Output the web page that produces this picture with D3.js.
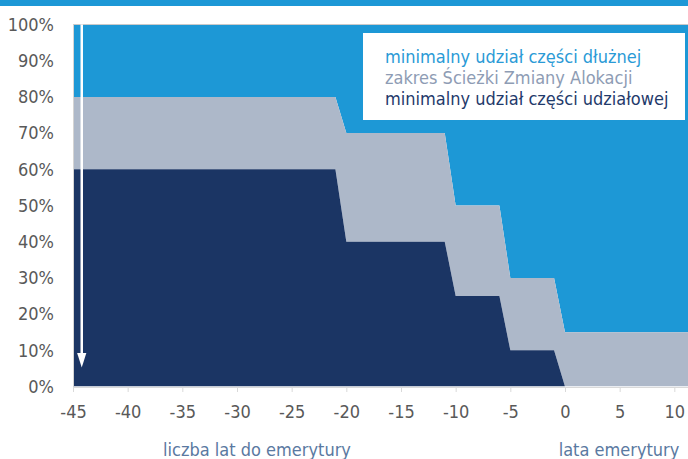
<!DOCTYPE html>
<html>
<head>
<meta charset="utf-8">
<script src="https://cdn.jsdelivr.net/npm/d3@7"></script>
<style>
    body { margin: 0; background: #fff; }
    svg text { font-family: "DejaVu Sans Condensed", "DejaVu Sans", sans-serif; font-stretch: condensed; }
</style>
</head>
<body>
<div id="chart"></div>
<script>
// years relative to retirement (0 = retirement age)
const years = [-45, -21, -20, -11, -10, -6, -5, -1, 0, 12];
// minimum debt share (%), measured from the top
const minDebtShare = [20, 20, 30, 30, 50, 50, 70, 70, 85, 85];
// minimum equity share (%), measured from the bottom
const minEquityShare = [60, 60, 40, 40, 25, 25, 10, 10, 0, 0];

const xTicks = [-45, -40, -35, -30, -25, -20, -15, -10, -5, 0, 5, 10];
const yTicks = [0, 10, 20, 30, 40, 50, 60, 70, 80, 90, 100];

const legendLabels = [
    'minimalny udział części dłużnej',
    'zakres Ścieżki Zmiany Alokacji',
    'minimalny udział części udziałowej'
];
const axisTitles = ['liczba lat do emerytury', 'lata emerytury'];

const width = 688;
const height = 459;
const plotLeft = 73;
const plotTop = 24.5;
const plotBottom = 386.5;

const colors = {
    debt: '#1d98d6',
    range: '#adb8c9',
    equity: '#1b3564'
};
const legendColors = ['#2a9ad6', '#8e9cb4', '#1f3a6b'];

const data = years.map((y, i) => ({
    year: y,
    upper: 100 - minDebtShare[i],
    lower: minEquityShare[i]
}));

const xScale = d3.scaleLinear()
    .domain([-45, 11.25])
    .range([plotLeft, width]);

const yScale = d3.scaleLinear()
    .domain([0, 100])
    .range([plotBottom, plotTop]);

const svg = d3.select('#chart')
    .append('svg')
    .attr('width', width)
    .attr('height', height);

// top band
svg.append('rect')
    .attr('x', 0).attr('y', 0)
    .attr('width', width).attr('height', 6)
    .attr('fill', colors.debt);

svg.append('clipPath')
    .attr('id', 'plot-clip')
    .append('rect')
    .attr('x', plotLeft).attr('y', plotTop)
    .attr('width', width - plotLeft).attr('height', plotBottom - plotTop);

const plot = svg.append('g').attr('clip-path', 'url(#plot-clip)');

plot.append('path')
    .datum(data)
    .attr('fill', colors.debt)
    .attr('d', d3.area()
        .x(d => xScale(d.year))
        .y0(() => yScale(100))
        .y1(d => yScale(d.upper)));

plot.append('path')
    .datum(data)
    .attr('fill', colors.range)
    .attr('d', d3.area()
        .x(d => xScale(d.year))
        .y0(d => yScale(d.lower))
        .y1(d => yScale(d.upper)));

plot.append('path')
    .datum(data)
    .attr('fill', colors.equity)
    .attr('d', d3.area()
        .x(d => xScale(d.year))
        .y0(() => yScale(0))
        .y1(d => yScale(d.lower)));

// frame lines (left and top)
svg.append('line')
    .attr('x1', plotLeft).attr('x2', width)
    .attr('y1', plotTop).attr('y2', plotTop)
    .attr('stroke', '#c9c9c9');
svg.append('line')
    .attr('x1', plotLeft + 0.5).attr('x2', plotLeft + 0.5)
    .attr('y1', plotTop).attr('y2', plotBottom)
    .attr('stroke', '#d4d4d4');

// arrow
const arrowX = xScale(-44.2);
svg.append('line')
    .attr('x1', arrowX).attr('x2', arrowX)
    .attr('y1', plotTop).attr('y2', 355)
    .attr('stroke', '#fff')
    .attr('stroke-width', 2.5);
svg.append('path')
    .attr('d', `M${arrowX - 4.6},353 L${arrowX + 4.6},353 L${arrowX},367.5 Z`)
    .attr('fill', '#fff');

// x axis
const xAxis = svg.append('g')
    .attr('transform', `translate(0, ${plotBottom + 0.5})`)
    .call(d3.axisBottom(xScale).tickValues(xTicks).tickSize(5).tickPadding(13)
        .tickFormat(d => String(d)));
xAxis.select('.domain').attr('stroke', '#d9d9d9');
xAxis.selectAll('.tick line').attr('stroke', '#d9d9d9');
xAxis.selectAll('.tick text')
    .attr('fill', '#595959')
    .style('font-size', '18px');

// y axis
const yAxis = svg.append('g')
    .attr('transform', `translate(${plotLeft}, 0)`)
    .call(d3.axisLeft(yScale).tickValues(yTicks).tickSize(0).tickPadding(19)
        .tickFormat(d => d + '%'));
yAxis.select('.domain').remove();
yAxis.selectAll('.tick text')
    .attr('fill', '#595959')
    .style('font-size', '18px');

// axis titles
svg.append('text')
    .attr('x', 257).attr('y', 456)
    .attr('text-anchor', 'middle')
    .attr('fill', '#5a79a1')
    .style('font-size', '18px')
    .text(axisTitles[0]);
svg.append('text')
    .attr('x', 619).attr('y', 456)
    .attr('text-anchor', 'middle')
    .attr('fill', '#5a79a1')
    .style('font-size', '18px')
    .text(axisTitles[1]);

// legend
svg.append('rect')
    .attr('x', 363).attr('y', 33)
    .attr('width', 322).attr('height', 87)
    .attr('fill', '#fff');

svg.selectAll('.legend-label')
    .data(legendLabels)
    .enter()
    .append('text')
        .attr('class', 'legend-label')
        .attr('x', 385)
        .attr('y', (d, i) => 63 + i * 21)
        .attr('fill', (d, i) => legendColors[i])
        .style('font-size', '18px')
        .text(d => d);
</script>
</body>
</html>
